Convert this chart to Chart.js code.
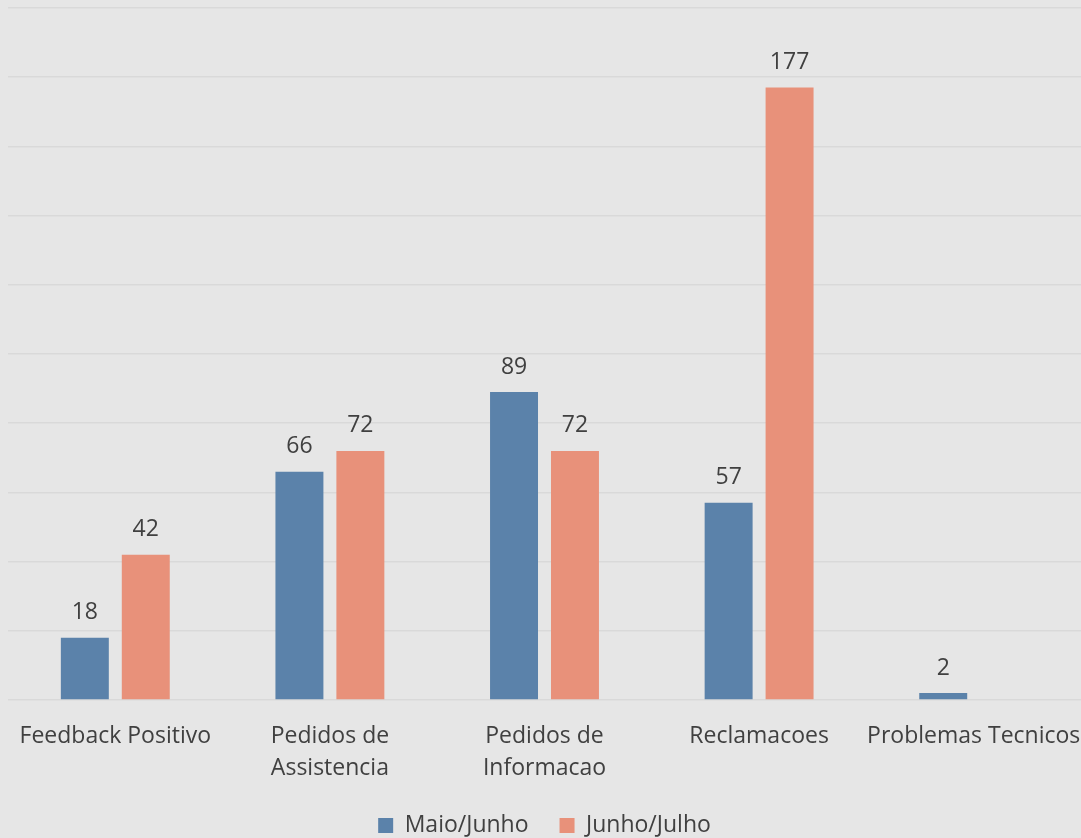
<!DOCTYPE html>
<html>
<head>
<meta charset="utf-8">
<script src="https://cdn.jsdelivr.net/npm/chart.js@4/dist/chart.umd.min.js"></script>
<style>
  html, body { margin: 0; padding: 0; background: #e6e6e6; }
  #wrap { width: 1081px; height: 838px; }
</style>
</head>
<body>
<div id="wrap"><canvas id="chartCanvas"></canvas></div>
<script>
const categories = [
    "Feedback Positivo",
    ["Pedidos de", "Assistencia"],
    ["Pedidos de", "Informacao"],
    "Reclamacoes",
    "Problemas Tecnicos"
];
const maioJunho = [18, 66, 89, 57, 2];
const junhoJulho = [42, 72, 72, 177, null];
const seriesNames = ["Maio/Junho", "Junho/Julho"];

const textColor = "#404040";
const gridColor = "#d9d9d9";
const fontFamily = "'Open Sans', 'Noto Sans', sans-serif";

// paints the grey background behind everything
const background = {
    id: "background",
    beforeDraw(chart) {
        const ctx = chart.ctx;
        ctx.save();
        ctx.fillStyle = "#e6e6e6";
        ctx.fillRect(0, 0, chart.width, chart.height);
        ctx.restore();
    }
};

// value labels above each bar
const valueLabels = {
    id: "valueLabels",
    afterDatasetsDraw(chart) {
        const ctx = chart.ctx;
        ctx.save();
        ctx.font = "23px " + fontFamily;
        ctx.fillStyle = textColor;
        ctx.textAlign = "center";
        ctx.textBaseline = "middle";
        chart.data.datasets.forEach((ds, i) => {
            const meta = chart.getDatasetMeta(i);
            meta.data.forEach((bar, j) => {
                const v = ds.data[j];
                if (v === null || v === undefined) return;
                ctx.fillText(String(v), bar.x, bar.y - 25);
            });
        });
        ctx.restore();
    }
};

const ctx = document.getElementById("chartCanvas").getContext("2d");

new Chart(ctx, {
    type: "bar",
    data: {
        labels: categories,
        datasets: [
            {
                label: seriesNames[0],
                data: maioJunho,
                backgroundColor: "#5b82aa",
                barPercentage: 0.787,
                categoryPercentage: 0.568
            },
            {
                label: seriesNames[1],
                data: junhoJulho,
                backgroundColor: "#e8917a",
                barPercentage: 0.787,
                categoryPercentage: 0.568
            }
        ]
    },
    options: {
        responsive: true,
        maintainAspectRatio: false,
        animation: false,
        layout: {
            padding: { left: 8, right: 0, top: 8, bottom: 0 }
        },
        scales: {
            y: {
                min: 0,
                max: 200,
                ticks: { display: false, stepSize: 20 },
                border: { display: false },
                grid: { color: gridColor, lineWidth: 1.5, drawTicks: false }
            },
            x: {
                ticks: {
                    color: textColor,
                    font: { family: fontFamily, size: 23, lineHeight: 1.37 },
                    padding: 21,
                    maxRotation: 0,
                    autoSkip: false
                },
                border: { display: false },
                grid: { display: false, drawTicks: false },
                // let the last label run to the edge and keep the axis band tight
                afterFit(scale) {
                    scale.paddingLeft = 0;
                    scale.paddingRight = 0;
                    scale.height = 83;
                }
            }
        },
        plugins: {
            legend: {
                position: "bottom",
                maxHeight: 55,
                labels: {
                    color: textColor,
                    font: { family: fontFamily, size: 23 },
                    boxWidth: 15,
                    boxHeight: 15,
                    padding: 31
                }
            },
            tooltip: { enabled: false }
        }
    },
    plugins: [background, valueLabels]
});
</script>
</body>
</html>
